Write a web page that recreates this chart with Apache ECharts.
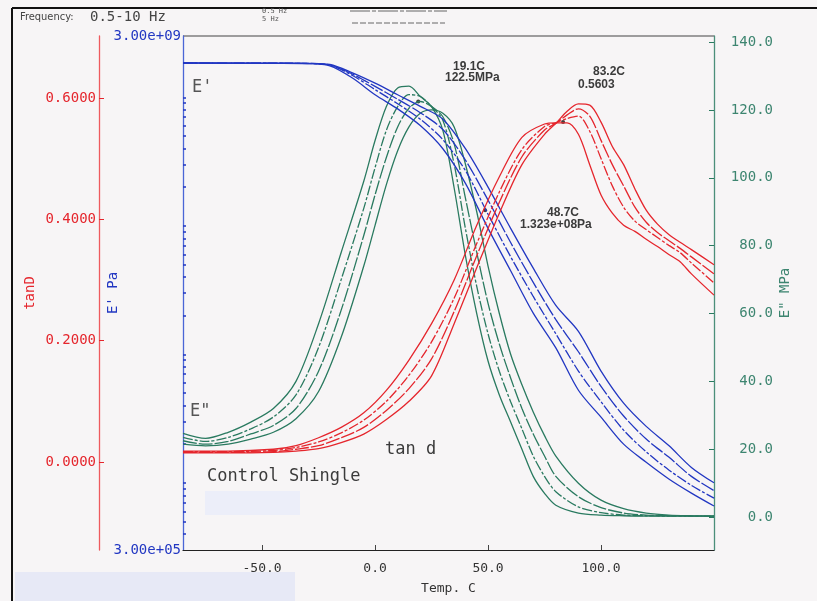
<!DOCTYPE html>
<html>
<head>
<meta charset="utf-8">
<script src="https://cdn.jsdelivr.net/npm/echarts@6/dist/echarts.min.js"></script>
<style>
html,body{margin:0;padding:0;background:#f7f5f6}
#main{width:817px;height:601px}
</style>
</head>
<body>
<div id="main"></div>
<script>
// temperatures (C) for each family of curves
const tempsG = [-85, -75, -65, -55, -45, -35, -25, -15, -5, 0, 5, 10, 15, 20, 25, 30, 35, 40, 45, 50, 55, 60, 65, 70, 75, 80, 90, 100, 110, 120, 130, 140, 150]
const tempsB = [-85, -65, -45, -30, -20, -10, 0, 10, 20, 30, 40, 50, 60, 70, 80, 90, 100, 110, 120, 130, 140, 150]
const tempsR = [-85, -65, -45, -35, -25, -15, -5, 5, 15, 25, 35, 45, 55, 65, 75, 80, 85, 90, 95, 100, 105, 110, 115, 120, 125, 130, 135, 140, 150]

// E" (MPa)
const eLoss1 = [24.7, 23.2, 25, 28, 32, 40, 57, 78, 99, 111, 121, 126.5, 127, 124, 121, 114, 97, 77, 60, 46, 36, 28, 20, 12, 7, 3.5, 1.2, 0.6, 0.4, 0.3, 0.3, 0.3, 0.3]
const eLoss2 = [23.5, 22.3, 23.5, 26, 29.5, 36, 50, 70, 91, 103, 114, 121, 124.5, 124, 121, 117, 104, 85, 68, 54, 43, 34, 26, 18, 12, 7.5, 3, 1.3, 0.6, 0.4, 0.3, 0.3, 0.3]
const eLoss3 = [22.5, 21.5, 22.3, 24.5, 27, 32, 43, 61, 83, 95, 106, 115, 120.5, 122.5, 121, 118, 110, 94, 78, 63, 51, 41, 32, 24.5, 18, 12, 6, 2.8, 1.2, 0.6, 0.4, 0.3, 0.3]
const eLoss4 = [21.5, 21, 21.5, 23, 25, 29, 37, 53, 74, 86, 98, 108, 115, 119, 120, 119, 115, 104, 90, 74, 60, 48, 39, 31, 24, 18, 10, 5, 2.5, 1.2, 0.6, 0.4, 0.3]

// E' (Pa)
const eStor1 = [1.849e9, 1.845e9, 1.837e9, 1.828e9, 1.758e9, 1.413e9, 1.047e9, 8.13e8, 6.03e8, 3.98e8, 2.14e8, 9.55e7, 4.47e7, 2.09e7, 1.122e7, 5.25e6, 3.24e6, 2.00e6, 1.445e6, 1.072e6, 8.32e5, 6.6e5]
const eStor2 = [1.849e9, 1.845e9, 1.841e9, 1.832e9, 1.778e9, 1.479e9, 1.148e9, 8.91e8, 6.76e8, 4.68e8, 2.69e8, 1.23e8, 5.75e7, 2.82e7, 1.445e7, 7.41e6, 4.27e6, 2.57e6, 1.74e6, 1.259e6, 9.55e5, 7.6e5]
const eStor3 = [1.849e9, 1.847e9, 1.843e9, 1.836e9, 1.79e9, 1.514e9, 1.216e9, 9.66e8, 7.59e8, 5.62e8, 3.24e8, 1.585e8, 7.41e7, 3.63e7, 1.86e7, 1.047e7, 5.62e6, 3.31e6, 2.19e6, 1.585e6, 1.122e6, 8.7e5]
const eStor4 = [1.849e9, 1.848e9, 1.845e9, 1.84e9, 1.80e9, 1.549e9, 1.288e9, 1.047e9, 8.51e8, 6.76e8, 3.98e8, 2.0e8, 9.55e7, 4.68e7, 2.40e7, 1.51e7, 7.41e6, 4.17e6, 2.75e6, 1.95e6, 1.318e6, 1.0e6]

// tan delta
const tan1 = [0.018, 0.018, 0.021, 0.027, 0.040, 0.057, 0.081, 0.118, 0.168, 0.228, 0.30, 0.39, 0.47, 0.535, 0.557, 0.559, 0.559, 0.54, 0.49, 0.44, 0.41, 0.39, 0.38, 0.367, 0.355, 0.342, 0.33, 0.31, 0.275]
const tan2 = [0.017, 0.017, 0.019, 0.024, 0.033, 0.048, 0.069, 0.100, 0.143, 0.198, 0.27, 0.36, 0.445, 0.515, 0.553, 0.559, 0.566, 0.57, 0.545, 0.50, 0.455, 0.42, 0.397, 0.383, 0.37, 0.357, 0.345, 0.328, 0.295]
const tan3 = [0.016, 0.016, 0.017, 0.021, 0.027, 0.040, 0.057, 0.085, 0.121, 0.170, 0.248, 0.34, 0.428, 0.503, 0.547, 0.558, 0.572, 0.582, 0.57, 0.53, 0.49, 0.455, 0.42, 0.395, 0.378, 0.365, 0.352, 0.338, 0.31]
const tan4 = [0.015, 0.015, 0.016, 0.018, 0.022, 0.032, 0.046, 0.070, 0.100, 0.142, 0.228, 0.32, 0.41, 0.49, 0.54, 0.558, 0.578, 0.590, 0.588, 0.56, 0.52, 0.49, 0.45, 0.415, 0.392, 0.375, 0.362, 0.35, 0.325]

// marked points
const markLoss = [[19.1, 122.5]]
const markStor = [[48.7, 1.323e8]]
const markTan = [[83.2, 0.5603]]

// tick labels
const tempTicks = [-50, 0, 50, 100]
const tanTicks = [0, 0.2, 0.4, 0.6]
const lossTicks = [0, 20, 40, 60, 80, 100, 120, 140]
const storLabels = [3e5, 3e9]
const storTicks = []
;[1e5, 1e6, 1e7, 1e8].forEach(d => {
  for (let m = 1; m < 10; m++) {
    if (m * d >= 4e5) storTicks.push(m * d)
  }
})
storTicks.push(1e9)

const mono = "'DejaVu Sans Mono', 'Liberation Mono', monospace"
const RED = '#e5262d', BLUE = '#2237c2', GREEN = '#2a7a60'
const dashes = ['solid', [10, 2, 3, 2], [14, 2], 'solid']

const pairs = (xs, ys) => xs.map((x, i) => [x, ys[i]])

const chart = echarts.init(document.getElementById('main'))

const series = []
;[eLoss1, eLoss2, eLoss3, eLoss4].forEach((v, i) => series.push({
  type: 'line', yAxisIndex: 2, data: pairs(tempsG, v), showSymbol: false, smooth: 0.3,
  lineStyle: { color: GREEN, width: 1.3, type: dashes[i] }
}))
;[eStor1, eStor2, eStor3, eStor4].forEach((v, i) => series.push({
  type: 'line', yAxisIndex: 1, data: pairs(tempsB, v), showSymbol: false, smooth: 0.3,
  lineStyle: { color: BLUE, width: 1.3, type: dashes[i] }
}))
;[tan1, tan2, tan3, tan4].forEach((v, i) => series.push({
  type: 'line', yAxisIndex: 0, data: pairs(tempsR, v), showSymbol: false, smooth: 0.3,
  lineStyle: { color: RED, width: 1.3, type: dashes[i] }
}))
series.push({ type: 'scatter', yAxisIndex: 2, data: markLoss, symbolSize: 4, itemStyle: { color: '#111' } })
series.push({ type: 'scatter', yAxisIndex: 1, data: markStor, symbolSize: 4, itemStyle: { color: '#111' } })
series.push({ type: 'scatter', yAxisIndex: 0, data: markTan, symbolSize: 4, itemStyle: { color: '#111' } })

const txt = (text, x, y, size, extra) => ({
  type: 'text', left: x, top: y, silent: true,
  style: Object.assign({ text: text, font: size + 'px ' + mono, fill: '#3b3b3b' }, extra || {})
})

chart.setOption({
  backgroundColor: '#f7f5f6',
  animation: false,
  grid: { left: 183, top: 36, right: 103, bottom: 51, containLabel: false },
  xAxis: {
    type: 'value', min: -85, max: 150,
    axisLine: { onZero: false, lineStyle: { color: '#222', width: 1.2 } },
    axisTick: { inside: true, length: 5, customValues: tempTicks, lineStyle: { color: '#444' } },
    axisLabel: { customValues: tempTicks, formatter: v => v.toFixed(1), color: '#333', fontFamily: mono, fontSize: 13, margin: 12 },
    splitLine: { show: false },
    name: 'Temp. C', nameLocation: 'middle', nameGap: 32, nameMoveOverlap: false,
    nameTextStyle: { color: '#333', fontFamily: mono, fontSize: 13 }
  },
  yAxis: [
    {
      type: 'value', position: 'left', offset: 84, min: -0.145, max: 0.702,
      axisLine: { show: true, onZero: false, lineStyle: { color: '#ee5a5e', width: 1.3 } },
      axisTick: { inside: true, length: 5, customValues: tanTicks, lineStyle: { color: RED } },
      axisLabel: { customValues: tanTicks, formatter: v => v.toFixed(4), color: RED, fontFamily: mono, fontSize: 14, margin: 3 },
      splitLine: { show: false },
      name: 'tanD', nameLocation: 'middle', nameGap: 62, nameMoveOverlap: false,
      nameTextStyle: { color: RED, fontFamily: mono, fontSize: 14 }
    },
    {
      type: 'log', logBase: 10, position: 'left', min: 3e5, max: 3e9,
      axisLine: { show: true, onZero: false, lineStyle: { color: '#4a66d6', width: 1.3 } },
      axisTick: { inside: true, length: 3, customValues: storTicks, lineStyle: { color: BLUE, width: 1.5 } },
      axisLabel: { customValues: storLabels, formatter: v => (v > 1e7 ? '3.00e+09' : '3.00e+05'), color: BLUE, fontFamily: mono, fontSize: 14, margin: 2 },
      splitLine: { show: false },
      name: "E' Pa", nameLocation: 'middle', nameGap: 63, nameMoveOverlap: false,
      nameTextStyle: { color: BLUE, fontFamily: mono, fontSize: 14 }
    },
    {
      type: 'value', position: 'right', min: -9.7, max: 141.8,
      axisLine: { show: true, onZero: false, lineStyle: { color: '#4b8f7a', width: 1.3 } },
      axisTick: { inside: true, length: 5, customValues: lossTicks, lineStyle: { color: GREEN } },
      axisLabel: { customValues: lossTicks, formatter: v => v.toFixed(1), color: '#3d8570', fontFamily: mono, fontSize: 14, align: 'right', margin: 59 },
      splitLine: { show: false },
      name: 'E" MPa', nameLocation: 'middle', nameGap: 64, nameRotate: 90, nameMoveOverlap: false,
      nameTextStyle: { color: '#3d8570', fontFamily: mono, fontSize: 14 }
    }
  ],
  series: series,
  graphic: [
    // page frame and plot top border
    { type: 'line', silent: true, shape: { x1: 12, y1: 8, x2: 817, y2: 8 }, style: { stroke: '#111', lineWidth: 2 } },
    { type: 'line', silent: true, shape: { x1: 12, y1: 8, x2: 12, y2: 601 }, style: { stroke: '#111', lineWidth: 2 } },
    { type: 'line', silent: true, shape: { x1: 183, y1: 36, x2: 714, y2: 36 }, style: { stroke: '#444', lineWidth: 1.2 } },
    { type: 'rect', silent: true, shape: { x: 205, y: 491, width: 95, height: 24 }, style: { fill: '#eceef9' } },
    { type: 'rect', silent: true, shape: { x: 15, y: 572, width: 280, height: 29 }, style: { fill: '#e7e9f6' } },
    // header
    { type: 'text', left: 20, top: 12, silent: true, style: { text: 'Frequency:', font: "11px 'DejaVu Sans Condensed', 'Liberation Sans Narrow', sans-serif", fill: '#444' } },
    txt('0.5-10 Hz', 90, 10, 14, { fill: '#444' }),
    txt('0.5 Hz', 262, 8, 7, { fill: '#555' }),
    txt('5 Hz', 262, 16, 7, { fill: '#555' }),
    { type: 'line', silent: true, shape: { x1: 350, y1: 11, x2: 447, y2: 11 }, style: { stroke: '#666', lineWidth: 1, lineDash: [20, 2, 4, 2] } },
    { type: 'line', silent: true, shape: { x1: 352, y1: 23, x2: 445, y2: 23 }, style: { stroke: '#666', lineWidth: 1, lineDash: [6, 2] } },
    // annotations
    txt('19.1C', 453, 61, 11, { fontWeight: 'bold' }),
    txt('122.5MPa', 445, 72, 11, { fontWeight: 'bold' }),
    txt('83.2C', 593, 66, 11, { fontWeight: 'bold' }),
    txt('0.5603', 578, 79, 11, { fontWeight: 'bold' }),
    txt('48.7C', 547, 207, 11, { fontWeight: 'bold' }),
    txt('1.323e+08Pa', 520, 219, 11, { fontWeight: 'bold' }),
    txt("E'", 192, 79, 17, { fill: '#555' }),
    txt('E"', 190, 403, 17, { fill: '#555' }),
    txt('tan d', 385, 441, 17),
    txt('Control Shingle', 207, 468, 17)
  ]
})
</script>
</body>
</html>
